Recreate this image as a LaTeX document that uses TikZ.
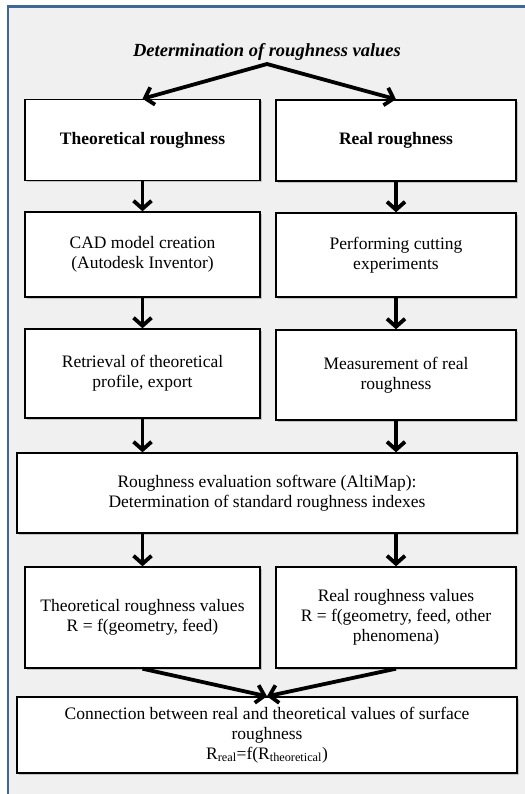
\documentclass[tikz,border=0pt]{standalone}
\usepackage{fontspec}
\setmainfont{Liberation Serif}
\usetikzlibrary{shadows,arrows.meta}
\definecolor{framebg}{HTML}{F0F0F0}
\definecolor{frameline}{HTML}{3F6897}
\tikzset{>={Straight Barb[length=8pt,width=18pt]},
  box/.style={draw=black, line width=1.4pt, fill=white, align=center,
    font=\fontsize{17.5}{20}\selectfont,
    drop shadow={shadow xshift=2pt, shadow yshift=-2pt, opacity=0.4}},
  flow/.style={->, line width=3.8pt, line join=miter}}

\begin{document}
\begin{tikzpicture}[x=1pt,y=-1pt]
  \useasboundingbox (0,0) rectangle (524,794);
  % frame
  \draw[frameline, line width=2.5pt, fill=framebg] (8,6.5) rectangle (545,815);
  \def\lx{142.5}  % left column
  \def\rx{396}    % right column
  \def\wl{235}
  \def\wr{240}
  \node[font=\bfseries\itshape\fontsize{18.5}{20}\selectfont] (title) at (267,52) {Determination of roughness values};
  \node[box, minimum width=\wl, minimum height=81] (theo) at (\lx,140) {\textbf{Theoretical roughness}};
  \node[box, minimum width=\wr, minimum height=81] (real) at (\rx,140.5) {\textbf{Real roughness}};
  \node[box, minimum width=\wl, minimum height=85] (cad) at (\lx,254.5) {CAD model creation\\(Autodesk Inventor)};
  \node[box, minimum width=\wr, minimum height=84] (cut) at (\rx,255) {Performing cutting\\experiments};
  \node[box, minimum width=\wl, minimum height=89] (retr) at (\lx,373.5) {Retrieval of theoretical\\profile, export};
  \node[box, minimum width=\wr, minimum height=90] (meas) at (\rx,375) {Measurement of real\\roughness};
  \node[box, minimum width=500, minimum height=80] (soft) at (267,493) {Roughness evaluation software (AltiMap):\\Determination of standard roughness indexes};
  \node[box, minimum width=\wl, minimum height=101] (tval) at (\lx,617.5) {Theoretical roughness values\\R = f(geometry, feed)};
  \node[box, minimum width=\wr, minimum height=101] (rval) at (\rx,617.5) {Real roughness values\\R = f(geometry, feed, other\\phenomena)};
  \node[box, minimum width=500, minimum height=76] (conn) at (267,735) {Connection between real and theoretical values of surface\\roughness\\R\textsubscript{real}=f(R\textsubscript{theoretical})};
  % arrows
  \draw[flow, <->] (theo.north) -- (title.south) -- (real.north);
  \draw[flow] (theo) -- (cad);
  \draw[flow] (real) -- (cut);
  \draw[flow] (cad) -- (retr);
  \draw[flow] (cut) -- (meas);
  \draw[flow] (retr.south) -- (retr.south |- soft.north);
  \draw[flow] (meas.south) -- (meas.south |- soft.north);
  \draw[flow] (tval.north |- soft.south) -- (tval.north);
  \draw[flow] (rval.north |- soft.south) -- (rval.north);
  \draw[flow] (tval.south) -- (conn.north);
  \draw[flow] (rval.south) -- (conn.north);
\end{tikzpicture}
\end{document}
